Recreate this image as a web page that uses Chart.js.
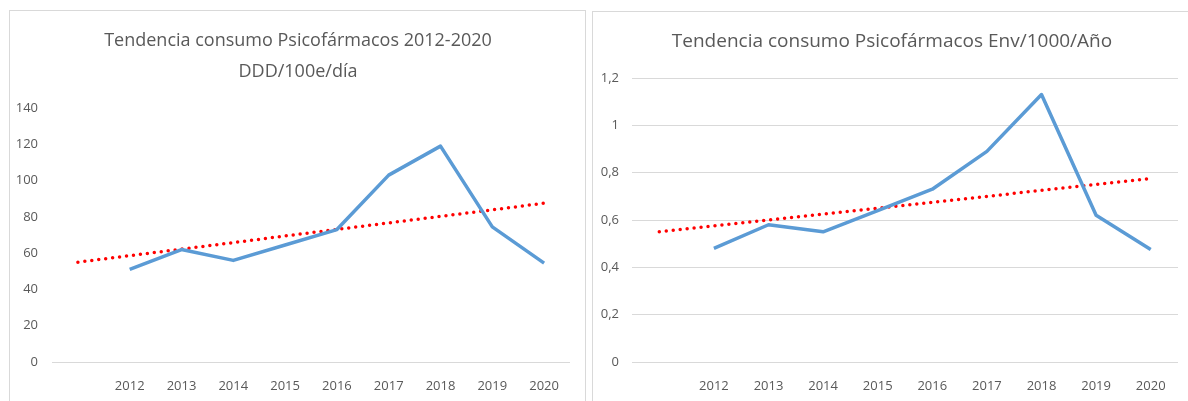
<!DOCTYPE html>
<html>
<head>
<meta charset="utf-8">
<script src="https://cdn.jsdelivr.net/npm/chart.js@4/dist/chart.umd.min.js"></script>
<style>
    html, body { margin: 0; padding: 0; background: #fff; overflow: hidden; }
    body { width: 1188px; height: 401px; position: relative; }
    .panel { position: absolute; border: 1px solid #d9d9d9; box-sizing: border-box; }
    canvas { position: absolute; }
</style>
</head>
<body>
<div class="panel" style="left:9px; top:10px; width:577px; height:420px;"></div>
<div class="panel" style="left:592px; top:11px; width:620px; height:420px;"></div>
<canvas id="chartDdd" width="574" height="390" style="left:10px; top:11px;"></canvas>
<canvas id="chartEnv" width="595" height="389" style="left:593px; top:12px;"></canvas>
<script>
    'use strict';

    // Categories (the first one is empty: the trendline is forecast one period back)
    const years = ['', '2012', '2013', '2014', '2015', '2016', '2017', '2018', '2019', '2020'];

    // DDD/100e/día
    const dddValues = [null, 51, 62, 56, 64.5, 73, 103, 119, 74.5, 54.5];
    const dddTrend = [55, null, null, null, null, null, null, null, null, 87.5];
    const dddTicks = [0, 20, 40, 60, 80, 100, 120, 140];

    // Env/1000/Año
    const envValues = [null, 0.48, 0.58, 0.55, 0.64, 0.73, 0.89, 1.13, 0.62, 0.475];
    const envTrend = [0.55, null, null, null, null, null, null, null, null, 0.775];
    const envTicks = [0, 0.2, 0.4, 0.6, 0.8, 1, 1.2];

    const textColor = '#595959';
    const gridColor = '#d9d9d9';
    const fontFamily = '"Open Sans", "Liberation Sans", sans-serif';

    // Nudge the title sideways so it sits centred on the whole panel
    const titleShift = {
        id: 'titleShift',
        afterLayout: function(chart, args, pluginOpts) {
            const block = chart.titleBlock;
            if (!block || !pluginOpts.dx) return;
            block.left += pluginOpts.dx;
            block.right += pluginOpts.dx;
        }
    };

    // Build a line chart with its linear trendline
    function createTrendChart(canvasId, title, values, trend, ticks, opts) {
        const ctx = document.getElementById(canvasId);
        if (!ctx) return null;

        const step = ticks[1] - ticks[0];

        return new Chart(ctx, {
            type: 'line',
            data: {
                labels: years,
                datasets: [{
                    data: values,
                    borderColor: '#5b9bd5',
                    borderWidth: 3.5,
                    pointRadius: 0,
                    tension: 0,
                    borderJoinStyle: 'round'
                }, {
                    data: trend,
                    borderColor: '#ff0000',
                    borderWidth: 3.5,
                    borderDash: [0, 7],
                    borderCapStyle: 'round',
                    pointRadius: 0,
                    spanGaps: true
                }]
            },
            plugins: [titleShift],
            options: {
                responsive: false,
                animation: false,
                layout: {
                    padding: { left: 0, right: opts.padRight, top: 0, bottom: 0 }
                },
                plugins: {
                    legend: { display: false },
                    tooltip: { enabled: false },
                    titleShift: { dx: opts.titleShift },
                    title: {
                        display: true,
                        text: title,
                        color: textColor,
                        font: { family: fontFamily, size: opts.titleSize, weight: 'normal', lineHeight: 31 / opts.titleSize },
                        padding: { top: 14.5, bottom: 20.5 }
                    }
                },
                scales: {
                    x: {
                        offset: true,
                        border: { display: false },
                        grid: { display: false, drawTicks: false },
                        ticks: {
                            color: textColor,
                            padding: 16,
                            maxRotation: 0,
                            autoSkip: false,
                            font: { family: fontFamily, size: 13 }
                        },
                        afterFit: function(scale) { scale.height = opts.xHeight; }
                    },
                    y: {
                        min: ticks[0],
                        max: ticks[ticks.length - 1],
                        border: { display: false },
                        grid: {
                            drawTicks: false,
                            lineWidth: 1,
                            color: function(c) {
                                if (opts.allGrid || c.tick.value === 0) return gridColor;
                                return 'rgba(0,0,0,0)';
                            }
                        },
                        ticks: {
                            stepSize: step,
                            color: textColor,
                            padding: opts.tickPad,
                            font: { family: fontFamily, size: 13 },
                            callback: function(value) {
                                return String(Number(value.toFixed(1))).replace('.', ',');
                            }
                        },
                        afterFit: function(scale) { scale.width = opts.yWidth; }
                    }
                }
            }
        });
    }

    createTrendChart('chartDdd', ['Tendencia consumo Psicofármacos 2012-2020', 'DDD/100e/día'],
        dddValues, dddTrend, dddTicks,
        { padRight: 14, xHeight: 39, yWidth: 42, tickPad: 14, allGrid: false, titleSize: 18, titleShift: 8 });

    createTrendChart('chartEnv', 'Tendencia consumo Psicofármacos Env/1000/Año',
        envValues, envTrend, envTicks,
        { padRight: 10, xHeight: 39, yWidth: 39, tickPad: 13, allGrid: true, titleSize: 19, titleShift: 6.5 });
</script>
</body>
</html>
